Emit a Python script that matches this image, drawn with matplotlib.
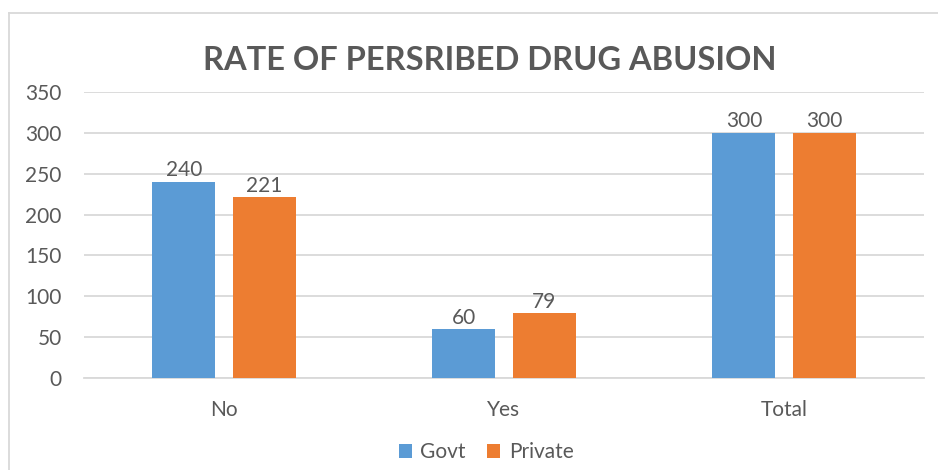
import matplotlib.pyplot as plt
import numpy as np
from matplotlib.lines import Line2D

# datos del grafico
categorias = ['No', 'Yes', 'Total']
govt = [240, 60, 300]
privado = [221, 79, 300]
series = ['Govt', 'Private']

azul = '#5B9BD5'
naranja = '#ED7D31'
gris = '#595959'

plt.rcParams['font.family'] = ['Lato', 'DejaVu Sans']

fig = plt.figure(figsize=(9.38, 4.70), dpi=100)
ax = fig.add_axes([84 / 938, 1 - 378 / 470, 840 / 938, 286 / 470])

x = np.arange(len(categorias))
ancho = 0.225
desp = 0.143
b1 = ax.bar(x - desp, govt, ancho, color=azul, label=series[0], zorder=3)
b2 = ax.bar(x + desp, privado, ancho, color=naranja, label=series[1], zorder=3)

# etiquetas de valor sobre las barras
for barras in (b1, b2):
    ax.bar_label(barras, padding=1, fontsize=15, color=gris)

ax.set_xlim(-0.5, 2.5)
ax.set_ylim(0, 350)
ax.set_yticks(range(0, 351, 50))
ax.set_xticks(x)
ax.set_xticklabels(categorias)
ax.grid(axis='y', color='#D9D9D9', linewidth=1.3, zorder=0)
for lado in ['top', 'right', 'left']:
    ax.spines[lado].set_visible(False)
ax.spines['bottom'].set_color('#D9D9D9')
ax.spines['bottom'].set_linewidth(1.3)
ax.tick_params(axis='y', length=0, pad=16, labelsize=15, labelcolor=gris)
ax.tick_params(axis='x', length=0, pad=16, labelsize=15, labelcolor=gris)

fig.text(0.522, 1 - 61 / 470, 'RATE OF PERSRIBED DRUG ABUSION', ha='center', va='center',
         fontsize=23.5, fontweight='bold', color=gris)

fig.legend(handles=[b1, b2], labels=series, loc='center', bbox_to_anchor=(486 / 938, 1 - 452 / 470),
           ncol=2, frameon=False, fontsize=15, labelcolor=gris, handlelength=0.65, handleheight=0.65,
           handletextpad=0.4, columnspacing=1.0)

# borde del area del grafico
fig.add_artist(Line2D([9 / 938, 1], [1 - 13 / 470] * 2, color='#D9D9D9', linewidth=1.3))
fig.add_artist(Line2D([9 / 938] * 2, [0, 1 - 13 / 470], color='#D9D9D9', linewidth=1.3))

fig.savefig('out.png', dpi=100)
